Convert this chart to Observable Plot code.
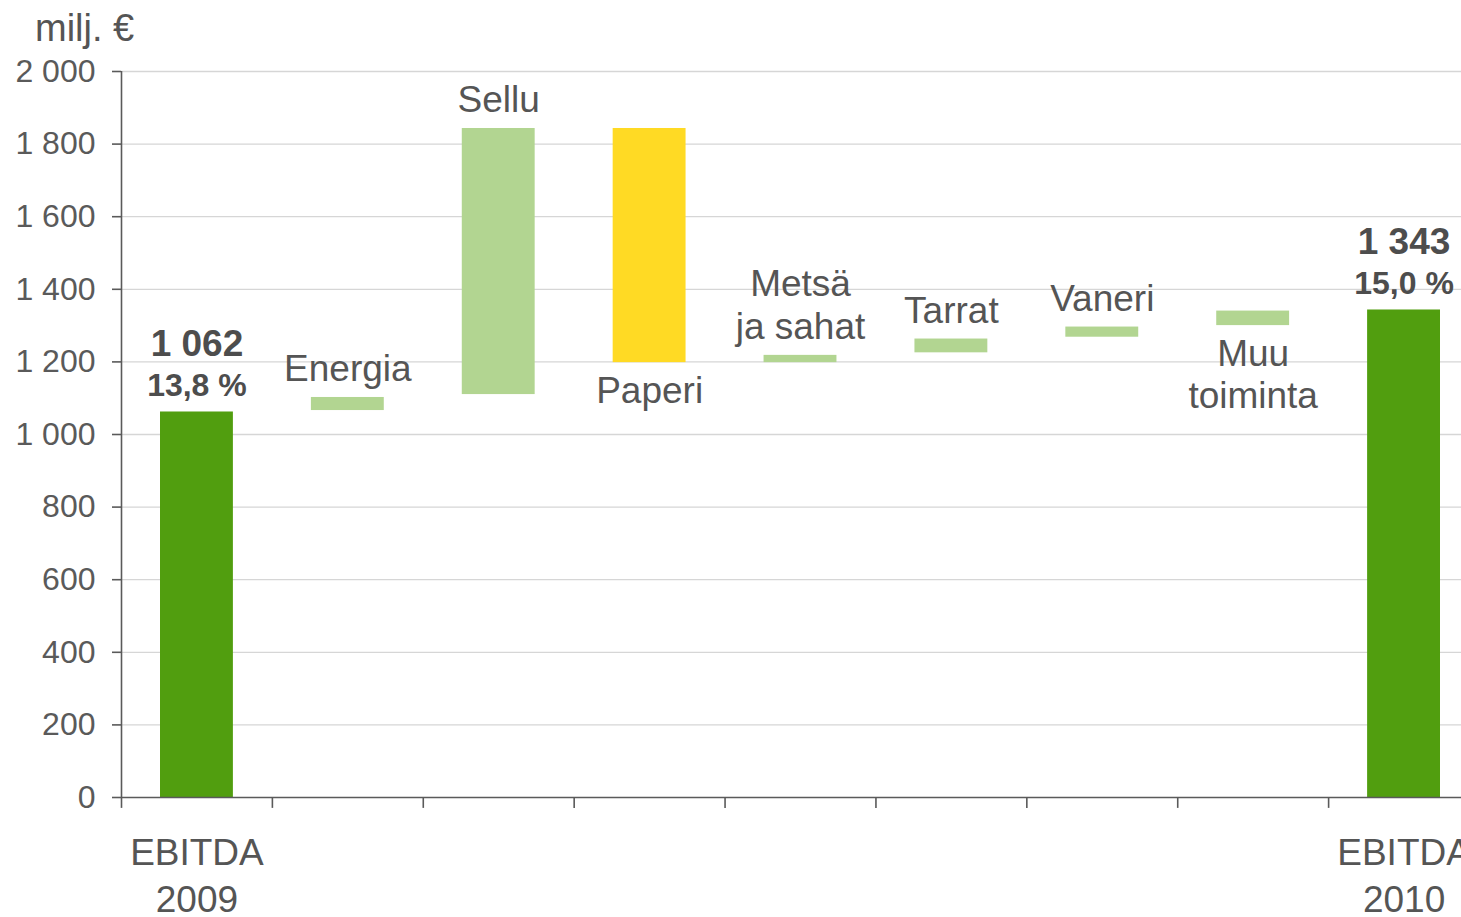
<!DOCTYPE html>
<html>
<head>
<meta charset="utf-8">
<script src="https://cdn.jsdelivr.net/npm/d3@7"></script>
<script src="https://cdn.jsdelivr.net/npm/@observablehq/plot@0.6"></script>
<style>
  html, body { margin: 0; padding: 0; background: #fff; overflow: hidden; }
  #wrap { position: relative; width: 1461px; height: 917px; overflow: hidden; }
  #title { position: absolute; left: 35px; top: 7px; font-family: "Liberation Sans", Arial, sans-serif; font-size: 38px; line-height: 43px; color: #555; }
  #chart { position: absolute; left: 0; top: 0; width: 1479px; height: 917px; }
  #chart svg { max-width: none !important; width: 1479px !important; height: 917px !important; }
</style>
</head>
<body>
<div id="wrap">
  <div id="chart"></div>
  <div id="title">milj. €</div>
</div>
<script>
// ---- data ----
const categories = ["EBITDA 2009", "Energia", "Sellu", "Paperi", "Metsä ja sahat", "Tarrat", "Vaneri", "Muu toiminta", "EBITDA 2010"];
const labels = ["EBITDA\n2009", "Energia", "Sellu", "Paperi", "Metsä\nja sahat", "Tarrat", "Vaneri", "Muu\ntoiminta", "EBITDA\n2010"];
const startValues = [0, 1066, 1110, 1843, 1198, 1225, 1268, 1300, 0];
const endValues = [1062, 1102, 1843, 1198, 1218, 1263, 1296, 1340, 1343];
const kinds = ["total", "increase", "increase", "decrease", "increase", "increase", "increase", "increase", "total"];
const labelSide = ["axis", "above", "above", "below", "above", "above", "above", "below", "axis"];
const totalCategories = ["EBITDA 2009", "EBITDA 2010"];
const totalValues = [1062, 1343];
const totalMargins = ["13,8 %", "15,0 %"];
const yTicks = [0, 200, 400, 600, 800, 1000, 1200, 1400, 1600, 1800, 2000];

// ---- build tables ----
const rows = categories.map((c, i) => ({
  cat: c, label: labels[i], lo: Math.min(startValues[i], endValues[i]),
  hi: Math.max(startValues[i], endValues[i]), kind: kinds[i], side: labelSide[i]
}));
const totals = totalCategories.map((c, i) => ({cat: c, value: totalValues[i], margin: totalMargins[i]}));

const fmt = d3.formatLocale({thousands: "\u00a0", grouping: [3], decimal: ","}).format(",");

const W = 1479, marginLeft = 121, marginRight = 0;
const step = (W - marginLeft - marginRight) / categories.length;
const ink = "#555555";
const axisInk = "#5a5a5a";

const chart = Plot.plot({
  width: W,
  height: 917,
  marginTop: 71,
  marginBottom: 120,
  marginLeft,
  marginRight,
  style: {fontFamily: "'Liberation Sans', Arial, sans-serif", fontSize: "30px", color: ink, background: "transparent", maxWidth: "none"},
  x: {domain: categories, padding: 0, round: false, axis: null},
  y: {domain: [0, 2000], axis: null},
  color: {domain: ["total", "increase", "decrease"], range: ["#519e0f", "#b2d591", "#ffda24"]},
  marks: [
    Plot.ruleY(yTicks.filter(d => d > 0), {y: d => d, stroke: "#d6d6d6", strokeWidth: 1.3}),
    Plot.barY(rows, {x: "cat", y1: "lo", y2: "hi", fill: "kind", insetLeft: 39, insetRight: 39}),
    // y axis line
    Plot.ruleX([categories[0]], {x: d => d, y1: 0, y2: 2000, dx: -step / 2, stroke: axisInk, strokeWidth: 1.6}),
    Plot.axisY({ticks: yTicks, tickSize: 9, tickPadding: 17, tickFormat: fmt, fontSize: 32, color: axisInk, strokeWidth: 1.6}),
    // x axis line and boundary ticks
    Plot.ruleY([0], {y: d => d, stroke: axisInk, strokeWidth: 1.6}),
    Plot.ruleX(categories, {x: d => d, y1: 0, y2: -30, dx: -step / 2, stroke: axisInk, strokeWidth: 1.6}),
    // x labels for totals
    Plot.text(rows.filter(d => d.side === "axis"), {x: "cat", y: 0, text: "label", lineAnchor: "top", dy: 34, fontSize: 37, lineHeight: 1.28, fill: ink}),
    // category labels
    Plot.text(rows.filter(d => d.side === "above"), {x: "cat", y: "hi", text: "label", lineAnchor: "bottom", dy: -16, fontSize: 37, lineHeight: 1.17, fill: ink}),
    Plot.text(rows.filter(d => d.side === "below"), {x: "cat", y: "lo", text: "label", lineAnchor: "top", dy: 10, fontSize: 37, lineHeight: 1.15, fill: ink}),
    // total value labels
    Plot.text(totals, {x: "cat", y: "value", text: d => fmt(d.value), lineAnchor: "bottom", dy: -56, fontSize: 37, fontWeight: "bold", fill: "#4d4d4d"}),
    Plot.text(totals, {x: "cat", y: "value", text: "margin", lineAnchor: "bottom", dy: -16, fontSize: 32, fontWeight: "bold", fill: "#4d4d4d"})
  ]
});
document.getElementById("chart").appendChild(chart);
</script>
</body>
</html>
